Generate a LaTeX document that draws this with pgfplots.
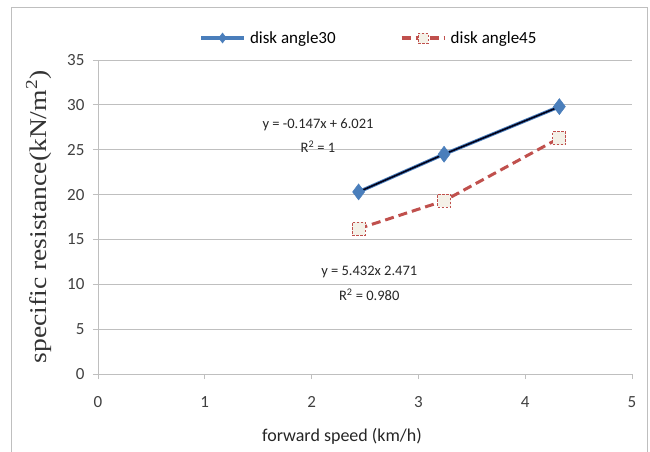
\documentclass[border=0pt]{standalone}
\usepackage{pgfplots}
\pgfplotsset{compat=1.18}
\usepackage{fontspec}
\setmainfont{Carlito}
\newfontfamily\serif{Liberation Serif}
\definecolor{xlblue}{HTML}{4A7EBB}
\definecolor{xlred}{HTML}{C0504D}
\definecolor{xlfill}{HTML}{F4F1E8}
\definecolor{gridgray}{HTML}{BFBFBF}

\begin{document}
\begin{tikzpicture}[x=1pt,y=1pt]
  \useasboundingbox (-98,-77) rectangle (552,374);
  % outer chart frame (bottom edge is cut off in the reference)
  \draw[gridgray,line width=1pt] (-86,-80) -- (-86,367) -- (549,367) -- (549,-80);
  \begin{axis}[
    at={(0,0)},
    anchor=south west,
    scale only axis,
    width=534pt,
    height=314pt,
    xmin=0, xmax=5,
    ymin=0, ymax=35,
    xtick={0,1,2,3,4,5},
    ytick={0,5,...,35},
    ymajorgrids,
    grid style={gridgray, line width=0.9pt},
    axis x line*=bottom,
    axis y line*=left,
    axis line style={gridgray, line width=0.9pt, -},
    tick style={gridgray, line width=0.9pt},
    tick align=outside,
    major tick length=5pt,
    ticklabel style={font=\fontsize{17}{18}\selectfont, text=black!75},
    xticklabel style={yshift=-14pt},
    yticklabel style={xshift=-5pt},
    /pgf/number format/assume math mode=true,
    xlabel={forward speed (km/h)},
    xlabel style={at={(axis description cs:0.457,-0.2)}, anchor=center,
      font=\fontsize{18}{20}\selectfont, text=black!85},
    ylabel={specific resistance(kN/m\textsuperscript{2})},
    ylabel style={at={(axis description cs:-0.111,0.5)}, anchor=center, xscale=1.15,
      font=\serif\fontsize{24}{26}\selectfont, text=black!80},
    legend columns=2,
    legend style={at={(0.507,1.07)}, anchor=center, draw=none, fill=none,
      font=\fontsize{17}{19}\selectfont, column sep=2pt,
      /tikz/every even column/.append style={column sep=62pt}},
    legend cell align=left,
    legend image code/.code={
      \draw[#1, line width=4pt] (0pt,0pt) -- (43pt,0pt);
      \draw[#1, solid, mark size=5pt] plot coordinates {(21.5pt,0pt)};
    },
  ]
  \addplot[xlblue, line width=3.5pt, mark=diamond*, mark size=8pt,
    mark options={fill=xlblue, draw=xlblue, line width=0.5pt, solid}] coordinates {
    (2.44,20.3) (3.24,24.5) (4.32,29.8)
  };
  \addlegendentry{disk angle30}
  \addplot[xlred, line width=3pt, dash pattern=on 9pt off 5pt, mark=square*, mark size=6.5pt,
    mark options={fill=xlfill, draw=xlred, line width=1pt, dash pattern=on 2.5pt off 1.5pt}] coordinates {
    (2.44,16.2) (3.24,19.3) (4.32,26.3)
  };
  \addlegendentry{disk angle45}
  \addplot[black!90!blue, line width=1.6pt, forget plot] coordinates {
    (2.44,20.3) (3.24,24.5) (4.32,29.8)
  };
  \node[font=\fontsize{14.5}{16}\selectfont, text=black!85] at (axis cs:2.06,27.8) {y = -0.147x + 6.021};
  \node[font=\fontsize{14.5}{16}\selectfont, text=black!85] at (axis cs:2.06,25.3) {R\textsuperscript{2} = 1};
  \node[font=\fontsize{14.5}{16}\selectfont, text=black!85] at (axis cs:2.54,11.4) {y = 5.432x 2.471};
  \node[font=\fontsize{14.5}{16}\selectfont, text=black!85] at (axis cs:2.54,8.8) {R\textsuperscript{2} = 0.980};
  \end{axis}
\end{tikzpicture}
\end{document}
